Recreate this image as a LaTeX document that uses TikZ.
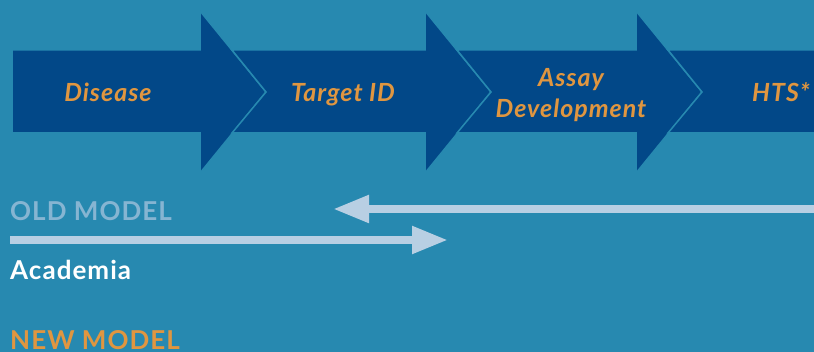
\documentclass[tikz,border=0pt]{standalone}
\usepackage{fontspec}
\setsansfont{Lato}
\usetikzlibrary{arrows.meta}

\definecolor{bgteal}{HTML}{2789B0}
\definecolor{stageblue}{HTML}{024888}
\definecolor{stageorange}{HTML}{E09640}
\definecolor{flowgrey}{HTML}{B8CFE3}
\definecolor{oldgrey}{HTML}{86B5D2}

\tikzset{
  stage/.style={fill=stageblue,draw=bgteal,line width=1.5pt,line join=miter},
  stagelabel/.style={text=stageorange,inner sep=0pt,align=center,
    font=\sffamily\bfseries\itshape\fontsize{25}{31}\selectfont\addfontfeatures{LetterSpace=4}},
  modellabel/.style={anchor=base west,inner sep=0pt,
    font=\sffamily\bfseries\fontsize{26}{30}\selectfont\addfontfeatures{LetterSpace=4}},
  flow/.style={draw=flowgrey,line width=8pt,-{Triangle[length=36pt,width=26pt]}}
}

\begin{document}
\begin{tikzpicture}[x=1pt,y=-1pt]
  \useasboundingbox (0,0) rectangle (814,352);
  \fill[bgteal] (0,0) rectangle (814,352);
  \clip (0,0) rectangle (814,352);

  % pipeline chevrons
  \draw[stage] (12,50) -- (200,50) -- (200,11) -- (266,92) -- (200,173) -- (200,133) -- (12,133) -- cycle;
  \foreach \prev/\head in {200/425,425/636,636/900}
    \draw[stage] (\prev+32,50) -- (\head,50) -- (\head,11) -- (\head+66,92) -- (\head,173)
      -- (\head,133) -- (\prev+32,133) -- (\prev+66,92) -- cycle;

  \node[stagelabel,anchor=base] (disease) at (108,101.5) {Disease};
  \node[stagelabel,anchor=base] (target) at (343,101.5) {Target ID};
  \node[stagelabel] (assay) at (571,95) {Assay\\Development};
  \node[stagelabel,anchor=base] (hts) at (781,101.5) {HTS*};

  % models
  \node[modellabel,text=oldgrey] (oldmodel) at (10,221) {OLD MODEL};
  \node[modellabel,text=white] (academia) at (10,280) {Academia};
  \node[modellabel,text=stageorange] (newmodel) at (10,349.5) {NEW MODEL};

  \coordinate (oldstart) at (830,209);
  \coordinate (oldend) at (333,209);
  \coordinate (acadstart) at (10,240);
  \coordinate (acadend) at (448,240);
  \draw[flow] (oldstart) -- (oldend);
  \draw[flow] (acadstart) -- (acadend);
\end{tikzpicture}
\end{document}
